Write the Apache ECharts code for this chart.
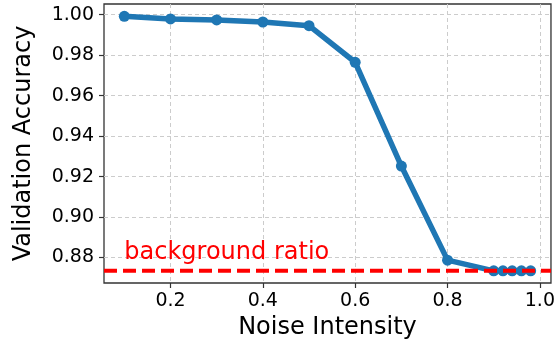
<!DOCTYPE html>
<html>
<head>
<meta charset="utf-8">
<script src="https://cdn.jsdelivr.net/npm/echarts@6/dist/echarts.min.js"></script>
<style>
  html, body { margin: 0; padding: 0; background: #fff; }
  #chart { width: 558px; height: 345px; }
</style>
</head>
<body>
<div id="chart"></div>
<script>
// 数据
const noiseIntensity = [0.1, 0.2, 0.3, 0.4, 0.5, 0.6, 0.7, 0.8, 0.9, 0.92, 0.94, 0.96, 0.98]
const valAccuracy = [0.9992, 0.9979, 0.9974, 0.9964, 0.9946, 0.9765, 0.9252, 0.8787, 0.8734, 0.8734, 0.8734, 0.8734, 0.8734]
const backgroundRatio = 0.8735
const xTicks = [0.2, 0.4, 0.6, 0.8, 1.0]
const yTicks = [0.88, 0.90, 0.92, 0.94, 0.96, 0.98, 1.00]

// 坐标轴范围
const xMin = 0.056
const xMax = 1.024
const yMin = 0.8674
const yMax = 1.0053

const FONT = 'DejaVu Sans'
const chart = echarts.init(document.getElementById('chart'))

const option = {
  animation: false,
  grid: {
    left: 104,
    right: 3,
    top: 4,
    bottom: 62,
    show: true,
    borderColor: '#333',
    borderWidth: 1.3,
    backgroundColor: 'transparent'
  },
  xAxis: {
    type: 'value',
    min: xMin,
    max: xMax,
    name: 'Noise Intensity',
    nameLocation: 'middle',
    nameGap: 29,
    nameTextStyle: { fontFamily: FONT, fontSize: 24, color: '#000' },
    axisLine: { show: false },
    axisTick: { show: true, inside: false, length: 5, customValues: xTicks, lineStyle: { color: '#333', width: 1.2 } },
    axisLabel: {
      customValues: xTicks,
      margin: 9,
      fontFamily: FONT,
      fontSize: 19,
      color: '#000',
      formatter: (v) => v.toFixed(1)
    },
    splitLine: { show: true, lineStyle: { color: '#cccccc', type: [4, 3], width: 1 } }
  },
  yAxis: {
    type: 'value',
    min: yMin,
    max: yMax,
    name: 'Validation Accuracy',
    nameLocation: 'middle',
    nameGap: 68,
    nameTextStyle: { fontFamily: FONT, fontSize: 24, color: '#000' },
    axisLine: { show: false },
    axisTick: { show: true, inside: false, length: 5, customValues: yTicks, lineStyle: { color: '#333', width: 1.2 } },
    axisLabel: {
      customValues: yTicks,
      margin: 10,
      fontFamily: FONT,
      fontSize: 19,
      color: '#000',
      formatter: (v) => v.toFixed(2)
    },
    splitLine: { show: true, lineStyle: { color: '#cccccc', type: [4, 3], width: 1 } }
  },
  series: [
    {
      name: 'accuracy',
      type: 'line',
      data: noiseIntensity.map((x, i) => [x, valAccuracy[i]]),
      symbol: 'circle',
      symbolSize: 11,
      itemStyle: { color: '#1f77b4' },
      lineStyle: { color: '#1f77b4', width: 5.5 },
      z: 3
    },
    {
      // 背景比例虚线
      name: 'background',
      type: 'line',
      data: [[xMin, backgroundRatio], [xMax, backgroundRatio]],
      showSymbol: false,
      silent: true,
      lineStyle: { color: '#ff0000', type: [13, 6], width: 4 },
      z: 5
    }
  ]
}

chart.setOption(option)

// 标注文字 background ratio
const pos = chart.convertToPixel({ xAxisIndex: 0, yAxisIndex: 0 }, [0.1, backgroundRatio])
chart.setOption({
  graphic: [{
    type: 'text',
    left: pos[0],
    top: pos[1] - 30,
    z: 10,
    style: { text: 'background ratio', fill: '#ff0000', font: '24px "DejaVu Sans"' }
  }]
})
</script>
</body>
</html>
